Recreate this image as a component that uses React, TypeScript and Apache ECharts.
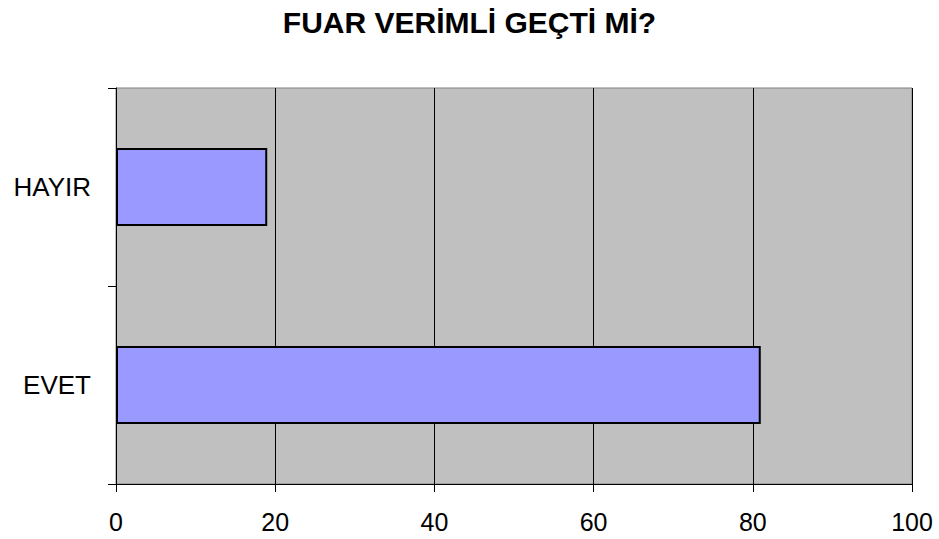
import React, { useEffect, useRef } from "react";
import * as echarts from "echarts";

const titleText = "FUAR VERİMLİ GEÇTİ Mİ?";
const categories = ["EVET", "HAYIR"];
const values = [81, 19];
const xMin = 0;
const xMax = 100;
const xInterval = 20;

const FONT = "Liberation Sans, Arial, sans-serif";

export default function App() {
  const ref = useRef<HTMLDivElement>(null);
  useEffect(() => {
    if (!ref.current) return;
    const chart = echarts.init(ref.current, null, { renderer: "svg" });
    chart.setOption({
      animation: false,
      backgroundColor: "#ffffff",
      title: {
        text: titleText,
        left: "center",
        top: 2,
        textStyle: {
          fontFamily: FONT,
          fontSize: 30,
          fontWeight: "bold",
          color: "#000000",
        },
      },
      grid: {
        left: 116,
        right: 27,
        top: 88,
        bottom: 55,
        show: true,
        backgroundColor: "#C0C0C0",
        borderColor: "#808080",
        borderWidth: 1,
      },
      xAxis: {
        type: "value",
        min: xMin,
        max: xMax,
        interval: xInterval,
        axisLine: { show: true, lineStyle: { color: "#000000", width: 1 } },
        axisTick: { show: true, length: 8, lineStyle: { color: "#000000" } },
        splitLine: { show: true, lineStyle: { color: "#000000", width: 1 } },
        axisLabel: {
          margin: 25,
          fontFamily: FONT,
          fontSize: 25,
          color: "#000000",
        },
      },
      yAxis: {
        type: "category",
        data: categories,
        axisLine: { show: true, lineStyle: { color: "#000000", width: 1 } },
        axisTick: { show: true, length: 8, lineStyle: { color: "#000000" } },
        splitLine: { show: false },
        axisLabel: {
          margin: 25,
          fontFamily: FONT,
          fontSize: 26,
          color: "#000000",
        },
      },
      series: [
        {
          type: "bar",
          data: values,
          barWidth: 78,
          itemStyle: {
            color: "#9999FF",
            borderColor: "#000000",
            borderWidth: 2,
          },
        },
      ],
    });
    return () => chart.dispose();
  }, []);
  return (
    <div
      ref={ref}
      style={{ position: "fixed", left: 0, top: 0, width: 939, height: 539 }}
    />
  );
}
